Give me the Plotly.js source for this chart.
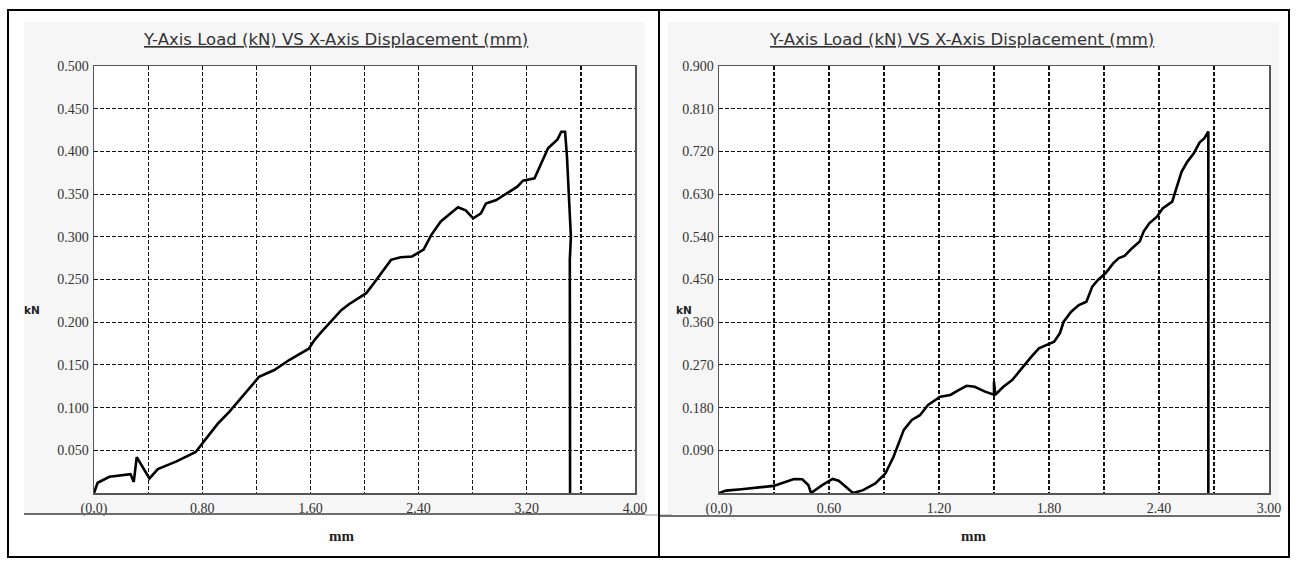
<!DOCTYPE html>
<html>
<head>
<meta charset="utf-8">
<script src="https://cdn.plot.ly/plotly-3.0.1.min.js"></script>
<style>html,body{margin:0;padding:0;background:#fff;}#chart{width:1297px;height:564px;}</style>
</head>
<body>
<div id="chart"></div>
<script>
// ---- data ----
const chartTitle = "Y-Axis Load (kN) VS X-Axis Displacement (mm)";
const yAxisLabel = "kN";
const xAxisLabel = "mm";

// left test: displacement (mm) vs load (kN)
const leftX = [0, 0.027, 0.114, 0.24, 0.27, 0.294, 0.316, 0.41, 0.472, 0.61, 0.752, 0.83, 0.92, 1.0, 1.11, 1.163, 1.22, 1.333, 1.446, 1.588, 1.63, 1.672, 1.757, 1.828, 1.885, 1.956, 2.013, 2.069, 2.126, 2.196, 2.267, 2.352, 2.437, 2.493, 2.564, 2.635, 2.691, 2.748, 2.804, 2.861, 2.898, 2.974, 3.045, 3.13, 3.172, 3.257, 3.357, 3.427, 3.455, 3.483, 3.497, 3.506, 3.512, 3.526, 3.518, 3.52];
const leftY = [0, 0.012, 0.019, 0.022, 0.022, 0.013, 0.042, 0.017, 0.028, 0.037, 0.048, 0.064, 0.082, 0.095, 0.115, 0.1245, 0.136, 0.144, 0.156, 0.169, 0.179, 0.187, 0.202, 0.214, 0.221, 0.228, 0.234, 0.2455, 0.258, 0.273, 0.276, 0.277, 0.285, 0.302, 0.318, 0.3275, 0.3345, 0.331, 0.3216, 0.3275, 0.339, 0.343, 0.350, 0.3587, 0.3657, 0.3685, 0.4036, 0.414, 0.423, 0.423, 0.394, 0.3627, 0.331, 0.300, 0.273, 0];

// right test
const rightX = [0, 0.038, 0.122, 0.298, 0.409, 0.454, 0.487, 0.502, 0.565, 0.62, 0.653, 0.731, 0.786, 0.853, 0.908, 0.952, 1.008, 1.052, 1.096, 1.14, 1.207, 1.262, 1.307, 1.351, 1.395, 1.451, 1.50, 1.50, 1.507, 1.551, 1.599, 1.651, 1.703, 1.745, 1.786, 1.828, 1.859, 1.88, 1.921, 1.963, 2.004, 2.036, 2.067, 2.108, 2.15, 2.181, 2.212, 2.253, 2.295, 2.316, 2.347, 2.389, 2.42, 2.472, 2.492, 2.523, 2.554, 2.59, 2.621, 2.648, 2.669, 2.669];
const rightY = [0, 0.005, 0.008, 0.015, 0.0295, 0.029, 0.017, 0, 0.017, 0.0295, 0.026, 0, 0.006, 0.020, 0.0415, 0.0765, 0.133, 0.154, 0.164, 0.1855, 0.203, 0.2066, 0.217, 0.226, 0.224, 0.2136, 0.207, 0.235, 0.207, 0.224, 0.238, 0.263, 0.287, 0.305, 0.312, 0.319, 0.3366, 0.361, 0.382, 0.396, 0.403, 0.435, 0.449, 0.463, 0.484, 0.495, 0.4996, 0.516, 0.530, 0.551, 0.5685, 0.5825, 0.600, 0.614, 0.639, 0.677, 0.698, 0.716, 0.7385, 0.748, 0.762, 0];

// axis ticks
const leftXTicks = [0, 0.4, 0.8, 1.2, 1.6, 2.0, 2.4, 2.8, 3.2, 3.6, 4.0];
const leftXLabels = ["(0,0)", "", "0.80", "", "1.60", "", "2.40", "", "3.20", "", "4.00"];
const leftYTicks = [0.05, 0.10, 0.15, 0.20, 0.25, 0.30, 0.35, 0.40, 0.45, 0.50];
const leftYLabels = ["0.050", "0.100", "0.150", "0.200", "0.250", "0.300", "0.350", "0.400", "0.450", "0.500"];
const rightXTicks = [0, 0.3, 0.6, 0.9, 1.2, 1.5, 1.8, 2.1, 2.4, 2.7, 3.0];
const rightXLabels = ["(0,0)", "", "0.60", "", "1.20", "", "1.80", "", "2.40", "", "3.00"];
const rightYTicks = [0.09, 0.18, 0.27, 0.36, 0.45, 0.54, 0.63, 0.72, 0.81, 0.90];
const rightYLabels = ["0.090", "0.180", "0.270", "0.360", "0.450", "0.540", "0.630", "0.720", "0.810", "0.900"];

// ---- layout helpers ----
const W = 1297, H = 564;
const px = v => v / W;
const py = v => 1 - v / H;

const tickFont = {family: "Liberation Serif, Times New Roman, serif", size: 14, color: "#333"};
function xAx(dom, rng, tv, tt) {
  return {domain: dom, range: rng, tickvals: tv, ticktext: tt, showgrid: true, gridcolor: "#111",
    griddash: "4px,2px", gridwidth: 1.2, zeroline: false, showline: true, mirror: true, linecolor: "#555",
    linewidth: 1.5, ticks: "", tickfont: tickFont, fixedrange: true, ticklabelstandoff: 2};
}
function yAx(dom, rng, tv, tt, anchor) {
  const a = xAx(dom, rng, tv, tt);
  a.anchor = anchor; a.ticklabelstandoff = 1;
  return a;
}

const lineStyle = {color: "#000", width: 2.6};
const data = [
  {x: leftX, y: leftY, type: "scatter", mode: "lines", line: lineStyle, xaxis: "x", yaxis: "y", hoverinfo: "skip"},
  {x: rightX, y: rightY, type: "scatter", mode: "lines", line: lineStyle, xaxis: "x2", yaxis: "y2", hoverinfo: "skip"}
];

const yDom = [py(493), py(66)];
const layout = {
  width: W, height: H, margin: {l: 0, r: 0, t: 0, b: 0}, showlegend: false,
  paper_bgcolor: "#fff", plot_bgcolor: "#fff",
  xaxis: Object.assign(xAx([px(94), px(635)], [0, 4], leftXTicks, leftXLabels), {anchor: "y"}),
  yaxis: yAx(yDom, [0, 0.5], leftYTicks, leftYLabels, "x"),
  xaxis2: Object.assign(xAx([px(719), px(1269)], [0, 3], rightXTicks, rightXLabels), {anchor: "y2"}),
  yaxis2: yAx(yDom, [0, 0.9], rightYTicks, rightYLabels, "x2"),
  shapes: [
    // light chart panels
    {type: "rect", xref: "paper", yref: "paper", x0: px(24), x1: px(645), y0: py(514), y1: py(22), fillcolor: "#f6f6f6", line: {width: 0}, layer: "below"},
    {type: "rect", xref: "paper", yref: "paper", x0: px(668), x1: px(1279), y0: py(514), y1: py(22), fillcolor: "#f6f6f6", line: {width: 0}, layer: "below"},
    // white plotting areas
    {type: "rect", xref: "paper", yref: "paper", x0: px(94), x1: px(635), y0: yDom[0], y1: yDom[1], fillcolor: "#fff", line: {width: 0}, layer: "below"},
    {type: "rect", xref: "paper", yref: "paper", x0: px(719), x1: px(1269), y0: yDom[0], y1: yDom[1], fillcolor: "#fff", line: {width: 0}, layer: "below"},
    // gray baselines under tick labels
    {type: "line", xref: "paper", yref: "paper", x0: px(24), x1: px(645), y0: py(514), y1: py(514), line: {color: "#6e6e6e", width: 2}},
    {type: "line", xref: "paper", yref: "paper", x0: px(645), x1: px(672), y0: py(515), y1: py(515), line: {color: "#9a9a9a", width: 1}},
    {type: "line", xref: "paper", yref: "paper", x0: px(660), x1: px(1280), y0: py(516), y1: py(516), line: {color: "#6e6e6e", width: 2}},
    // outer frame and separator
    {type: "rect", xref: "paper", yref: "paper", x0: px(8), x1: px(1289), y0: py(557), y1: py(10), line: {color: "#000", width: 2}},
    {type: "line", xref: "paper", yref: "paper", x0: px(659), x1: px(659), y0: py(557), y1: py(10), line: {color: "#000", width: 2}}
  ],
  annotations: [
    {text: "<u>" + chartTitle + "</u>", xref: "paper", yref: "paper", x: px(335), y: py(40), showarrow: false,
      xanchor: "center", yanchor: "middle", font: {family: "DejaVu Sans, sans-serif", size: 16.5, color: "#333"}},
    {text: "<u>" + chartTitle + "</u>", xref: "paper", yref: "paper", x: px(961), y: py(40), showarrow: false,
      xanchor: "center", yanchor: "middle", font: {family: "DejaVu Sans, sans-serif", size: 16.5, color: "#333"}},
    {text: "<b>" + yAxisLabel + "</b>", xref: "paper", yref: "paper", x: px(32), y: py(310), showarrow: false,
      xanchor: "center", yanchor: "middle", font: {family: "DejaVu Sans, sans-serif", size: 10.5, color: "#222"}},
    {text: "<b>" + yAxisLabel + "</b>", xref: "paper", yref: "paper", x: px(684), y: py(310), showarrow: false,
      xanchor: "center", yanchor: "middle", font: {family: "DejaVu Sans, sans-serif", size: 10.5, color: "#222"}},
    {text: "<b>" + xAxisLabel + "</b>", xref: "paper", yref: "paper", x: px(341), y: py(536), showarrow: false,
      xanchor: "center", yanchor: "middle", font: {family: "Liberation Serif, serif", size: 15, color: "#222"}},
    {text: "<b>" + xAxisLabel + "</b>", xref: "paper", yref: "paper", x: px(973), y: py(536), showarrow: false,
      xanchor: "center", yanchor: "middle", font: {family: "Liberation Serif, serif", size: 15, color: "#222"}}
  ]
};

Plotly.newPlot("chart", data, layout, {staticPlot: true, displayModeBar: false});
</script>
</body>
</html>
